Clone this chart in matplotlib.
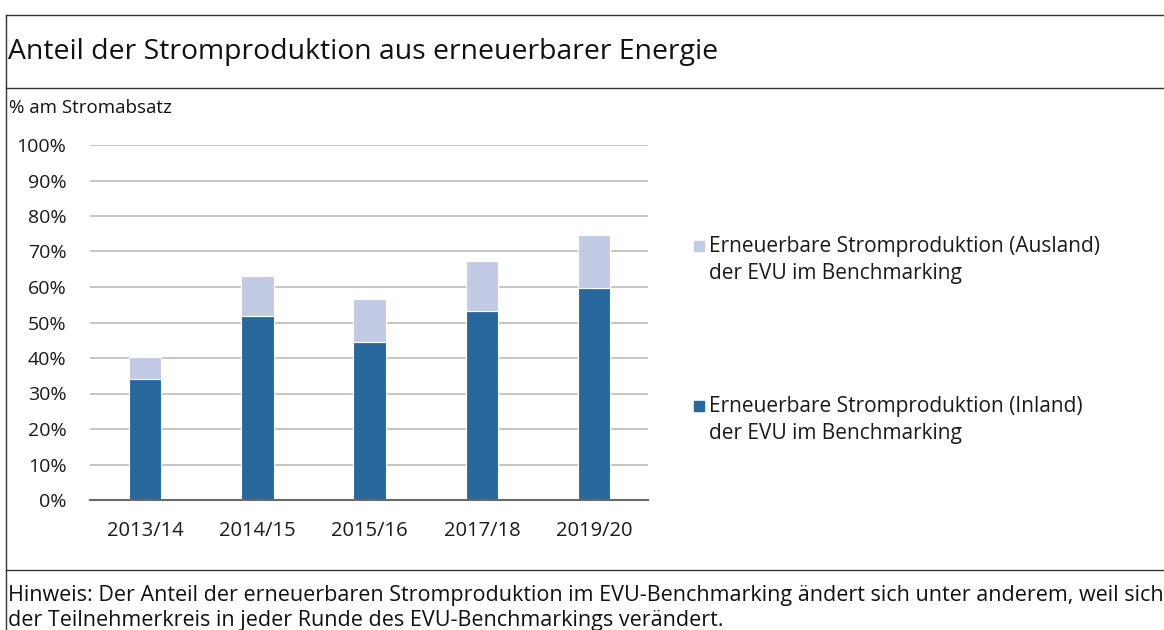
import matplotlib
matplotlib.use("Agg")
import matplotlib.pyplot as plt
from matplotlib.lines import Line2D
from matplotlib.patches import Rectangle
import numpy as np

categories = ["2013/14", "2014/15", "2015/16", "2017/18", "2019/20"]
inland = [34.2, 51.9, 44.6, 53.1, 59.8]
ausland = [6.1, 11.3, 12.0, 14.3, 14.9]
yticks = [0, 10, 20, 30, 40, 50, 60, 70, 80, 90, 100]
legend_labels = ["Erneuerbare Stromproduktion (Ausland)\nder EVU im Benchmarking",
                 "Erneuerbare Stromproduktion (Inland)\nder EVU im Benchmarking"]
title = "Anteil der Stromproduktion aus erneuerbarer Energie"
unit = "% am Stromabsatz"
note = ("Hinweis: Der Anteil der erneuerbaren Stromproduktion im EVU-Benchmarking ändert sich unter anderem, weil sich\n"
        "der Teilnehmerkreis in jeder Runde des EVU-Benchmarkings verändert.")

c_in = "#27679E"
c_aus = "#C1CBE3"
font = ["Open Sans", "DejaVu Sans"]

W, H = 1164, 630
fig = plt.figure(figsize=(W / 100, H / 100), dpi=100)

def fx(px):
    return px / W

def fy(py):
    return 1 - py / H

ax = fig.add_axes([fx(90), fy(500), fx(648) - fx(90), fy(145) - fy(500)])
x = np.arange(len(categories))
ax.bar(x, inland, width=0.29, color=c_in, edgecolor="white", linewidth=0.8, zorder=3)
ax.bar(x, ausland, bottom=inland, width=0.29, color=c_aus, edgecolor="white", linewidth=0.8, zorder=3)
ax.set_ylim(0, 100)
ax.set_xlim(-0.49, 4.48)
ax.set_yticks(yticks)
ax.set_yticklabels([f"{v}%" for v in yticks], fontfamily=font, fontsize=14, color="#1a1a1a")
ax.set_xticks(x)
ax.set_xticklabels(categories, fontfamily=font, fontsize=14.5, color="#1a1a1a")
ax.tick_params(axis="both", length=0)
ax.tick_params(axis="y", pad=17)
ax.tick_params(axis="x", pad=15)
ax.grid(axis="y", color="#B5B5B5", linewidth=1.1, zorder=0)
for s in ["top", "right", "left"]:
    ax.spines[s].set_visible(False)
ax.spines["bottom"].set_color("#6b6b6b")
ax.spines["bottom"].set_linewidth(1.5)
ax.spines["bottom"].set_zorder(4)

# legend (manual)
for (sq_y, col, lab) in [(246, c_aus, legend_labels[0]), (406, c_in, legend_labels[1])]:
    fig.patches.append(Rectangle((fx(694), fy(sq_y) - 5 / H), fx(10), 10 / H,
                                 color=col, transform=fig.transFigure, figure=fig))
    fig.text(fx(709), fy(sq_y + 14), lab, fontfamily=font, fontsize=15, color="#1a1a1a",
             va="center", ha="left", linespacing=1.42)

fig.text(fx(8), fy(52), title, fontfamily=font, fontsize=20.4, color="#111111", va="center", ha="left")
fig.text(fx(9), fy(108), unit, fontfamily=font, fontsize=13.5, color="#111111", va="center", ha="left")
fig.text(fx(8), fy(608), note, fontfamily=font, fontsize=15.5, color="#111111", va="center", ha="left",
         linespacing=1.27)

# frame lines
for yline in [15, 88, 570]:
    fig.add_artist(Line2D([fx(6), 1], [fy(yline), fy(yline)], color="#333333", linewidth=1.0))
fig.add_artist(Line2D([fx(6), fx(6)], [fy(15), 0], color="#333333", linewidth=1.0))

fig.savefig("out.png", dpi=100, facecolor="white")
